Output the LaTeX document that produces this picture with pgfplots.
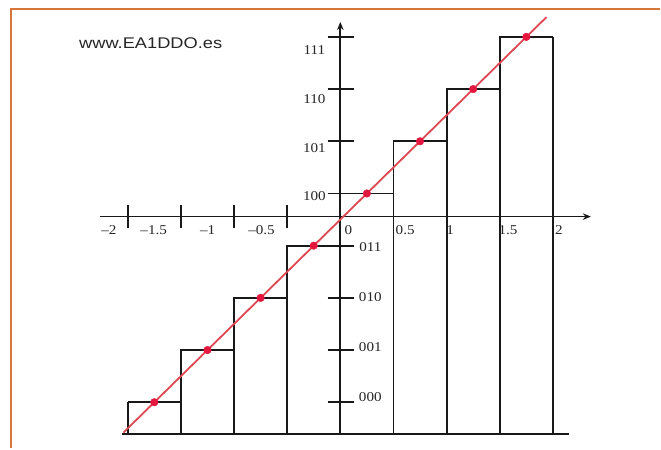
\documentclass[border=0pt]{standalone}
\usepackage{pgfplots}
\pgfplotsset{compat=1.18}
\usepackage{fontspec}
\setmainfont{Liberation Serif}
\newfontfamily\arial{Liberation Sans}
\usetikzlibrary{arrows.meta}
\definecolor{frameor}{RGB}{214,118,58}
\definecolor{redline}{RGB}{222,72,82}
\definecolor{reddot}{RGB}{226,22,62}
\begin{document}
\begin{tikzpicture}
\begin{axis}[
  width=661bp, height=449bp, scale only axis,
  xmin=-3.202, xmax=3.005, ymin=-4.379, ymax=4.207,
  hide axis, clip=false,
  unbounded coords=jump,
]
\path[fill=white] (rel axis cs:0,0) rectangle (rel axis cs:1,1);
% orange frame
\draw[frameor, line width=2.6bp] (rel axis cs:0.0166,0) -- (rel axis cs:0.0166,0.980) -- (rel axis cs:1,0.980);
% axes
\addplot[black!90, line width=1.8bp, -{Stealth[length=8bp,width=6.5bp]}] coordinates {(-2.263,0.057)(2.357,0.057)};
\addplot[black!90, line width=1.8bp, -{Stealth[length=8bp,width=6.5bp]}] coordinates {(0,-4.11)(0,3.786)};
% baseline
\addplot[black!90, line width=1.8bp] coordinates {(-2.056,-4.11)(2.150,-4.11)};
% negative x ticks
\addplot[black!90, line width=1.8bp] coordinates {(-2,0.287)(-2,-0.153)(-2,nan)(-1.5,0.287)(-1.5,-0.153)(-1.5,nan)(-1,0.287)(-1,-0.153)(-1,nan)(-0.5,0.287)(-0.5,-0.153)};
% y ticks
\addplot[black!90, line width=1.8bp] coordinates {(-0.12,3.5)(0.13,3.5)(0,nan)(-0.12,2.5)(0.13,2.5)(0,nan)(-0.12,1.5)(0.13,1.5)(0,nan)(-0.12,0.5)(0.13,0.5)(0,nan)(-0.12,-0.5)(0.13,-0.5)(0,nan)(-0.12,-1.5)(0.13,-1.5)(0,nan)(-0.12,-2.5)(0.13,-2.5)(0,nan)(-0.12,-3.5)(0.13,-3.5)};
% step tops
\addplot[black!90, line width=1.8bp, const plot] coordinates {(-2,-3.5)(-1.5,-2.5)(-1,-1.5)(-0.5,-0.5)(0,0.5)(0.5,1.5)(1,2.5)(1.5,3.5)(2,3.5)};
% bar edges
\addplot[black!90, line width=1.8bp] coordinates {(-2,-4.11)(-2,-3.5)(-2,nan)(-1.5,-4.11)(-1.5,-2.5)(-1.5,nan)(-1,-4.11)(-1,-1.5)(-1,nan)(-0.5,-4.11)(-0.5,-0.5)(-0.5,nan)(0.5,-4.11)(0.5,1.5)(0.5,nan)(1,-4.11)(1,2.5)(1,nan)(1.5,-4.11)(1.5,3.5)(1.5,nan)(2,-4.11)(2,3.5)};
% red line
\addplot[redline, line width=1.8bp] coordinates {(-2.04,-4.08)(1.94,3.88)};
\addplot[only marks, mark=*, mark size=3.8bp, reddot, mark options={draw=reddot, fill=reddot}] coordinates {(-1.75,-3.5)(-1.25,-2.5)(-0.75,-1.5)(-0.25,-0.5)(0.25,0.5)(0.75,1.5)(1.25,2.5)(1.75,3.5)};
% labels
\begin{scope}[every node/.style={font=\fontsize{13.5bp}{15bp}\selectfont, text=black!85, xscale=1.12, inner sep=0pt}]
\node at (axis cs:-0.244,3.250) {111};
\node at (axis cs:-0.244,2.314) {110};
\node at (axis cs:-0.244,1.377) {101};
\node at (axis cs:-0.244,0.459) {100};
\node at (axis cs:0.282,-0.535) {011};
\node at (axis cs:0.282,-1.491) {010};
\node at (axis cs:0.282,-2.447) {001};
\node at (axis cs:0.282,-3.403) {000};
\node at (axis cs:-2.178,-0.210) {–2};
\node at (axis cs:-1.756,-0.210) {–1.5};
\node at (axis cs:-1.249,-0.210) {–1};
\node at (axis cs:-0.742,-0.210) {–0.5};
\node at (axis cs:0.075,-0.210) {0};
\node at (axis cs:0.610,-0.210) {0.5};
\node at (axis cs:1.033,-0.210) {1};
\node at (axis cs:1.577,-0.210) {1.5};
\node at (axis cs:2.056,-0.210) {2};
\end{scope}
\node[font=\arial\fontsize{15.5bp}{17bp}\selectfont, text=black!85, xscale=1.18, inner sep=0pt] at (axis cs:-1.784,3.384) {www.EA1DDO.es};
\end{axis}
\end{tikzpicture}
\end{document}
